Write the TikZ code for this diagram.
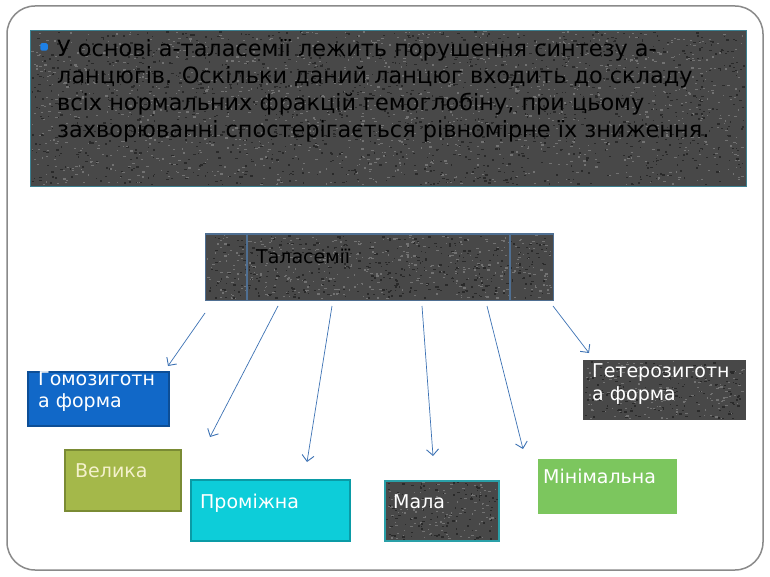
\documentclass[tikz,border=0pt]{standalone}
\usepackage{fontspec}
\setmainfont{DejaVu Sans}
\usetikzlibrary{arrows.meta}
\definecolor{framegray}{HTML}{8A8A8A}
\definecolor{darkfill}{HTML}{484848}
\definecolor{speckL}{HTML}{727272}
\definecolor{speckD}{HTML}{2A2A2A}
\definecolor{mainedge}{HTML}{3C8090}
\definecolor{taledge}{HTML}{4F6F92}
\definecolor{bulletblue}{HTML}{1E80E6}
\definecolor{arrowblue}{HTML}{3D72B4}
\definecolor{homfill}{HTML}{1168C8}
\definecolor{homedge}{HTML}{0D4E96}
\definecolor{velfill}{HTML}{A4B84A}
\definecolor{veledge}{HTML}{7A8B34}
\definecolor{velText}{HTML}{F4F1CC}
\definecolor{promfill}{HTML}{0DCDD9}
\definecolor{promedge}{HTML}{0A9BA6}
\definecolor{malaedge}{HTML}{2AA0A8}
\definecolor{minfill}{HTML}{7CC65E}
\newcommand\mynoise[5]{% x y w h count
  \foreach \k in {1,...,#5}{%
    \pgfmathsetmacro\nx{#1+1+(#3-4)*rnd}%
    \pgfmathsetmacro\ny{#2+1+(#4-3)*rnd}%
    \pgfmathsetmacro\nw{1+2*rnd}%
    \fill[speckL] (\nx,\ny) rectangle ++(\nw,1.2);%
    \pgfmathsetmacro\mx{#1+1+(#3-4)*rnd}%
    \pgfmathsetmacro\my{#2+1+(#4-3)*rnd}%
    \fill[speckD] (\mx,\my) rectangle ++(\nw,1.4);%
  }%
}
\tikzset{
  darkbox/.style={rectangle, fill=darkfill, inner sep=0pt, outer sep=0pt, anchor=north west},
  colbox/.style={rectangle, inner sep=0pt, outer sep=0pt, anchor=north west, line width=1.5pt},
  maintext/.style={inner sep=0pt, anchor=base west, text=black, font=\fontsize{22.4}{27}\selectfont},
  lbl/.style={inner sep=0pt, anchor=base west, text=white, font=\fontsize{19}{22}\selectfont},
  conn/.style={draw=arrowblue, line width=0.7pt, -{Straight Barb[length=6pt,width=12pt,line width=0.9pt]}}
}
\begin{document}
\begin{tikzpicture}[x=1pt,y=-1pt]
\pgfmathsetseed{7}
\useasboundingbox (0,0) rectangle (770,577);
\fill[white] (0,0) rectangle (770,577);
\draw[framegray, line width=1.5pt, rounded corners=28pt] (7,6) rectangle (763,570);

% top text box
\node[darkbox, minimum width=716pt, minimum height=156pt] (main) at (30,30) {};
\mynoise{30}{30}{716}{156}{1400}
\draw[mainedge, line width=0.8pt] (main.north west) rectangle (main.south east);
\node[fill=bulletblue, minimum size=7.5pt, inner sep=0pt, rounded corners=1.5pt] (bul) at (44,47) {};
\node[maintext] (l1) at (57,57) {У основі a-таласемії лежить порушення синтезу a-};
\node[maintext] (l2) at (57,83.5) {ланцюгів. Оскільки даний ланцюг входить до складу};
\node[maintext] (l3) at (57,110.5) {всіх нормальних фракцій гемоглобіну, при цьому};
\node[maintext] (l4) at (57,137.5) {захворюванні спостерігається рівномірне їх зниження.};

% central box
\node[darkbox, minimum width=348pt, minimum height=66pt] (tal) at (205,234) {};
\mynoise{205}{234}{348}{66}{400}
\draw[taledge, line width=1pt] (tal.north west) rectangle (tal.south east);
\draw[taledge, line width=1.5pt] (247,234) -- (247,300);
\draw[taledge, line width=1.5pt] (510,234) -- (510,300);
\node[lbl, text=black] (taltext) at (256,263) {Таласемії};

% target boxes
\node[colbox, fill=homfill, draw=homedge, minimum width=141pt, minimum height=54pt] (hom) at (28,372) {};
\node[lbl] (homa) at (38,385) {Гомозиготн};
\node[lbl] (homb) at (38,407) {а форма};

\node[colbox, fill=velfill, draw=veledge, minimum width=116pt, minimum height=61pt] (vel) at (65,450) {};
\node[lbl, text=velText] (velt) at (75,477) {Велика};

\node[colbox, fill=promfill, draw=promedge, minimum width=159pt, minimum height=61pt] (prom) at (191,480) {};
\node[lbl] (promt) at (200,508) {Проміжна};

\node[darkbox, minimum width=114pt, minimum height=60pt] (mala) at (385,481) {};
\mynoise{385}{481}{114}{60}{110}
\draw[malaedge, line width=1.5pt] (mala.north west) rectangle (mala.south east);
\node[lbl] (malat) at (393,508) {Мала};

\node[colbox, fill=minfill, minimum width=139pt, minimum height=55pt] (min) at (538,459) {};
\node[lbl] (mint) at (543,483) {Мінімальна};

\node[darkbox, minimum width=163pt, minimum height=60pt] (het) at (583,360) {};
\mynoise{583}{360}{163}{60}{160}
\node[lbl] (heta) at (592,377) {Гетерозиготн};
\node[lbl] (hetb) at (592,400) {а форма};

% connectors
\coordinate (s1) at (205,313); \coordinate (e1) at (168,366);
\coordinate (s2) at (278,306); \coordinate (e2) at (210,437);
\coordinate (s3) at (332,306); \coordinate (e3) at (307,462);
\coordinate (s4) at (422,306); \coordinate (e4) at (433,456);
\coordinate (s5) at (487,306); \coordinate (e5) at (523,449);
\coordinate (s6) at (553,306); \coordinate (e6) at (589,353);
\foreach \i in {1,...,6} { \draw[conn] (s\i) -- (e\i); }
\end{tikzpicture}
\end{document}
